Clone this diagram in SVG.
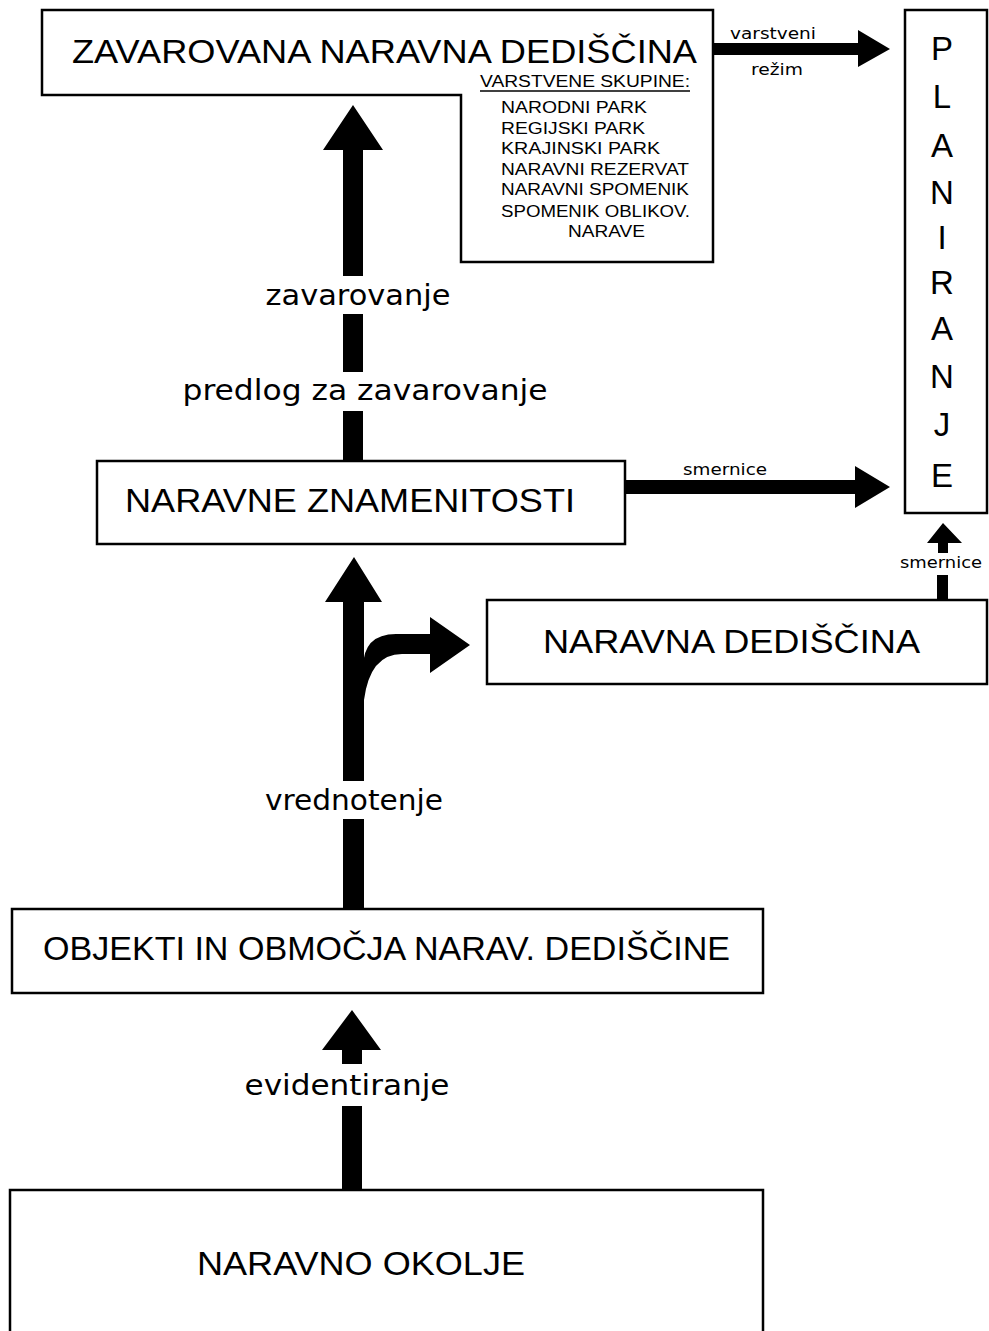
<svg xmlns="http://www.w3.org/2000/svg" width="989" height="1331" viewBox="0 0 989 1331">
<style>
.box{fill:#fff;stroke:#000;stroke-width:2.5}
.big{font-family:"Liberation Sans",Arial,sans-serif;font-size:33px;fill:#000}
.lab{font-family:"DejaVu Sans","Liberation Sans",sans-serif;font-size:29px;fill:#000}
.sm{font-family:"DejaVu Sans","Liberation Sans",sans-serif;font-size:15px;fill:#000}
.lst{font-family:"Liberation Sans",Arial,sans-serif;font-size:16px;fill:#000}
.arr{fill:#000;stroke:none}
</style>
<rect width="989" height="1331" fill="#fff"/>
<g id="connectors">
  <!-- varstveni rezim -->
  <path class="arr" d="M713,43 H858 V30 L890,49 L858,67 V55 H713 Z"/>
  <!-- smernice horizontal -->
  <path class="arr" d="M625,480 H855 V466 L890,487 L855,508 V494 H625 Z"/>
  <!-- smernice vertical small -->
  <path class="arr" d="M937,600 V575 H948 V600 Z"/>
  <path class="arr" d="M938,553 V543 H927 L943,523 L962,543 H948 V553 Z"/>
  <!-- up arrow to box1 -->
  <path class="arr" d="M343,460 V150 H323 L353,105 L383,150 H363 V460 Z"/>
  <!-- up arrow to znamenitosti -->
  <path class="arr" d="M343,908 V602 H325 L354,557 L382,602 H364 V908 Z"/>
  <!-- branch to naravna dediscina -->
  <path class="arr" d="M363,668 Q363,634 396,634 H430 V617 L470,645 L430,673 V654 H402 Q370,654 364,700 Z"/>
  <!-- evidentiranje -->
  <path class="arr" d="M342,1190 V1050 H322 L352,1010 L381,1050 H362 V1190 Z"/>
  <!-- white gaps behind labels -->
  <rect x="330" y="276" width="45" height="38" fill="#fff"/>
  <rect x="330" y="372" width="45" height="39" fill="#fff"/>
  <rect x="330" y="781" width="45" height="38" fill="#fff"/>
  <rect x="330" y="1064" width="45" height="42" fill="#fff"/>
  <text class="lab" x="358" y="305" text-anchor="middle" textLength="185" lengthAdjust="spacingAndGlyphs">zavarovanje</text>
  <text class="lab" x="365" y="400" text-anchor="middle" textLength="365" lengthAdjust="spacingAndGlyphs">predlog za  zavarovanje</text>
  <text class="lab" x="354" y="810" text-anchor="middle" textLength="178" lengthAdjust="spacingAndGlyphs">vrednotenje</text>
  <text class="lab" x="347" y="1095" text-anchor="middle" textLength="205" lengthAdjust="spacingAndGlyphs">evidentiranje</text>
  <text class="sm" x="773" y="39" text-anchor="middle" textLength="86" lengthAdjust="spacingAndGlyphs">varstveni</text>
  <text class="sm" x="777" y="75" text-anchor="middle" textLength="52" lengthAdjust="spacingAndGlyphs">režim</text>
  <text class="sm" x="725" y="475" text-anchor="middle" textLength="84" lengthAdjust="spacingAndGlyphs">smernice</text>
  <text class="sm" x="941" y="568" text-anchor="middle" textLength="82" lengthAdjust="spacingAndGlyphs">smernice</text>
</g>
<g id="zavarovana">
  <path class="box" d="M42,10 H713 V262 H461 V95 H42 Z"/>
  <text class="big" x="72" y="63" textLength="625" lengthAdjust="spacingAndGlyphs">ZAVAROVANA  NARAVNA  DEDIŠČINA</text>
  <text class="lst" x="480" y="87" textLength="210" lengthAdjust="spacingAndGlyphs">VARSTVENE  SKUPINE:</text>
  <line x1="480" y1="91" x2="690" y2="91" stroke="#000" stroke-width="1.5"/>
  <text class="lst" x="501" y="113" textLength="146" lengthAdjust="spacingAndGlyphs">NARODNI PARK</text>
  <text class="lst" x="501" y="134" textLength="144" lengthAdjust="spacingAndGlyphs">REGIJSKI PARK</text>
  <text class="lst" x="501" y="154" textLength="159" lengthAdjust="spacingAndGlyphs">KRAJINSKI PARK</text>
  <text class="lst" x="501" y="175" textLength="188" lengthAdjust="spacingAndGlyphs">NARAVNI REZERVAT</text>
  <text class="lst" x="501" y="195" textLength="188" lengthAdjust="spacingAndGlyphs">NARAVNI SPOMENIK</text>
  <text class="lst" x="501" y="217" textLength="189" lengthAdjust="spacingAndGlyphs">SPOMENIK OBLIKOV.</text>
  <text class="lst" x="568" y="237" textLength="77" lengthAdjust="spacingAndGlyphs">NARAVE</text>
</g>
<g id="planiranje">
  <rect class="box" x="905" y="10" width="82" height="503"/>
  <g class="big" text-anchor="middle">
    <text x="942" y="60">P</text>
    <text x="942" y="108">L</text>
    <text x="942" y="157">A</text>
    <text x="942" y="204">N</text>
    <text x="942" y="249">I</text>
    <text x="942" y="294">R</text>
    <text x="942" y="340">A</text>
    <text x="942" y="388">N</text>
    <text x="942" y="436">J</text>
    <text x="942" y="487">E</text>
  </g>
</g>
<g id="znamenitosti">
  <rect class="box" x="97" y="461" width="528" height="83"/>
  <text class="big" x="125" y="512" textLength="450" lengthAdjust="spacingAndGlyphs">NARAVNE  ZNAMENITOSTI</text>
</g>
<g id="dediscina">
  <rect class="box" x="487" y="600" width="500" height="84"/>
  <text class="big" x="543" y="653" textLength="377" lengthAdjust="spacingAndGlyphs">NARAVNA  DEDIŠČINA</text>
</g>
<g id="objekti">
  <rect class="box" x="12" y="909" width="751" height="84"/>
  <text class="big" x="43" y="960" textLength="687" lengthAdjust="spacingAndGlyphs">OBJEKTI IN OBMOČJA NARAV. DEDIŠČINE</text>
</g>
<g id="okolje">
  <path class="box" d="M10,1340 V1190 H763 V1340"/>
  <text class="big" x="197" y="1275" textLength="328" lengthAdjust="spacingAndGlyphs">NARAVNO  OKOLJE</text>
</g>
</svg>
